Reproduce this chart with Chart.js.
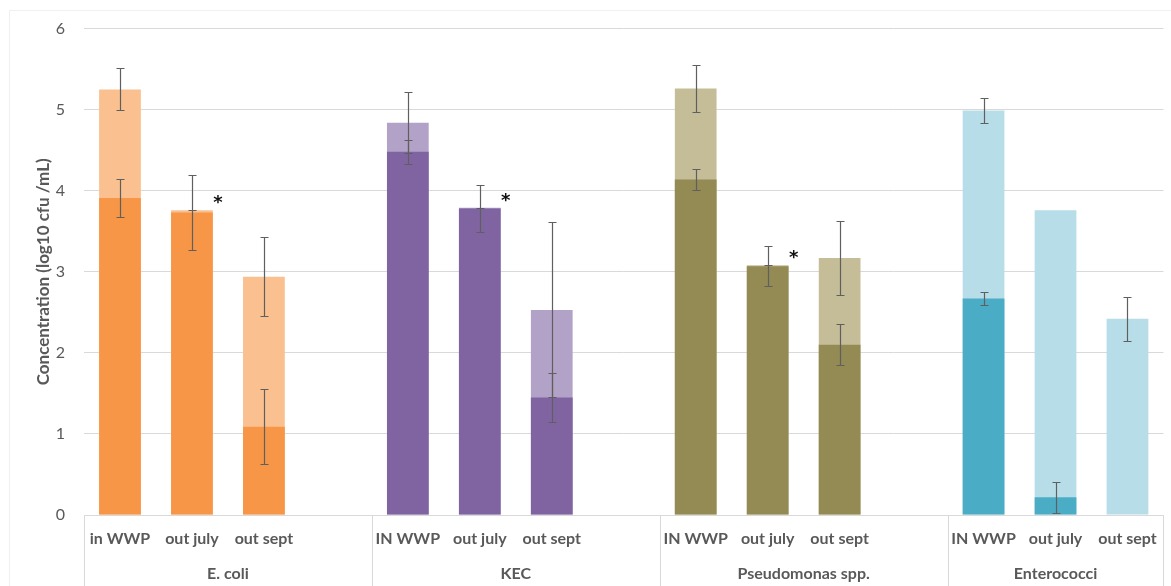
<!DOCTYPE html>
<html>
<head>
<meta charset="utf-8">
<script src="https://cdn.jsdelivr.net/npm/chart.js@4"></script>
<style>
  html, body { margin: 0; padding: 0; background: #ffffff; }
  #wrap { width: 1171px; height: 586px; position: relative; }
</style>
</head>
<body>
<div id="wrap"><canvas id="chart" width="1171" height="586"></canvas></div>
<script>
// Sampling points (empty strings are spacer slots between organism groups)
const categories = ['in WWP', 'out july', 'out sept', '',
                    'IN WWP', 'out july', 'out sept', '',
                    'IN WWP', 'out july', 'out sept', '',
                    'IN WWP', 'out july', 'out sept'];
// Organism groups and the number of slots each one spans
const groups = ['E. coli', 'KEC', 'Pseudomonas spp.', 'Enterococci'];
const groupSpans = [4, 4, 4, 3];

// Total counts (log10 cfu/mL) and their error
const totalValues = [5.25, 3.76, 2.94, null, 4.84, 3.79, 2.53, null, 5.26, 3.08, 3.17, null, 4.99, 3.76, 2.42];
const totalErrors = [0.26, 0, 0.49, null, 0.38, 0, 1.08, null, 0.29, 0, 0.46, null, 0.16, null, 0.27];

// Subset counts (log10 cfu/mL) and their error
const subsetValues = [3.91, 3.73, 1.09, null, 4.48, 3.78, 1.45, null, 4.14, 3.07, 2.10, null, 2.67, 0.22, null];
const subsetErrors = [0.235, 0.46, 0.46, null, 0.15, 0.29, 0.30, null, 0.13, 0.25, 0.255, null, 0.085, 0.19, null];

// Slots flagged with a significance asterisk
const significant = [1, 5, 9];

// Y axis ticks
const yTicks = [0, 1, 2, 3, 4, 5, 6];

const FONT = 'Lato, "DejaVu Sans", sans-serif';
const TEXT = '#595959';
const GRID = '#d9d9d9';

const darkPalette  = ['#F79646', '#8064A2', '#948A54', '#4BACC6'];
const lightPalette = ['#FAC090', '#B3A2C7', '#C4BD97', '#B7DEE8'];

function groupIndexOf(slot) {
  let acc = 0;
  for (let g = 0; g < groupSpans.length; g++) {
    acc += groupSpans[g];
    if (slot < acc) return g;
  }
  return groupSpans.length - 1;
}
const darkColors = categories.map((_, i) => darkPalette[groupIndexOf(i)]);
const lightColors = categories.map((_, i) => lightPalette[groupIndexOf(i)]);

const errorSets = [totalErrors, subsetErrors];

const decorations = {
  id: 'decorations',
  beforeDraw(chart) {
    const ctx = chart.ctx;
    ctx.save();
    ctx.fillStyle = '#ffffff';
    ctx.fillRect(0, 0, chart.width, chart.height);
    // faint outer frame
    ctx.strokeStyle = '#f0f0f0';
    ctx.lineWidth = 1;
    ctx.beginPath();
    ctx.moveTo(9.5, chart.height);
    ctx.lineTo(9.5, 10.5);
    ctx.lineTo(chart.width, 10.5);
    ctx.stroke();
    ctx.restore();
  },
  afterDatasetsDraw(chart) {
    const ctx = chart.ctx;
    const y = chart.scales.y;
    ctx.save();
    ctx.strokeStyle = '#5f5f5f';
    ctx.lineWidth = 1.2;
    errorSets.forEach((errs, di) => {
      const meta = chart.getDatasetMeta(di);
      const vals = chart.data.datasets[di].data;
      meta.data.forEach((el, j) => {
        const v = vals[j], e = errs[j];
        if (v == null || e == null) return;
        const top = Math.round(y.getPixelForValue(v + e)) + 0.5;
        const bot = Math.round(y.getPixelForValue(v - e)) + 0.5;
        const x = Math.round(el.x) + 0.5;
        ctx.beginPath();
        ctx.moveTo(x, top); ctx.lineTo(x, bot);
        ctx.moveTo(x - 4, top); ctx.lineTo(x + 4, top);
        ctx.moveTo(x - 4, bot); ctx.lineTo(x + 4, bot);
        ctx.stroke();
      });
    });
    // significance markers
    ctx.fillStyle = '#111111';
    ctx.font = 'bold 18px "DejaVu Sans", sans-serif';
    ctx.textAlign = 'center';
    ctx.textBaseline = 'alphabetic';
    const meta0 = chart.getDatasetMeta(0);
    significant.forEach(i => {
      const el = meta0.data[i];
      ctx.fillText('*', el.x + 26, y.getPixelForValue(totalValues[i]) - 2);
    });
    ctx.restore();
  },
  afterDraw(chart) {
    const ctx = chart.ctx;
    const x = chart.scales.x;
    const area = chart.chartArea;
    const slot = x.getPixelForValue(1) - x.getPixelForValue(0);
    ctx.save();
    ctx.strokeStyle = GRID;
    ctx.lineWidth = 1;
    ctx.fillStyle = TEXT;
    ctx.font = 'bold 16px ' + FONT;
    ctx.textAlign = 'center';
    ctx.textBaseline = 'middle';
    let start = 0;
    const edges = [];
    groupSpans.forEach((span, g) => {
      const left = x.getPixelForValue(start) - slot / 2;
      const right = x.getPixelForValue(start + span - 1) + slot / 2;
      edges.push(left);
      if (g === groupSpans.length - 1) edges.push(right);
      ctx.fillText(groups[g], (left + right) / 2, 574);
      start += span;
    });
    ctx.beginPath();
    edges.forEach(px => {
      const xx = Math.round(px) + 0.5;
      ctx.moveTo(xx, area.bottom);
      ctx.lineTo(xx, chart.height);
    });
    ctx.stroke();
    ctx.restore();
  }
};

new Chart(document.getElementById('chart'), {
  type: 'bar',
  data: {
    labels: categories,
    datasets: [
      {
        label: 'Total',
        data: totalValues,
        backgroundColor: lightColors,
        borderWidth: 0,
        order: 1
      },
      {
        label: 'Subset',
        data: subsetValues,
        backgroundColor: darkColors,
        borderWidth: 0,
        order: 0
      }
    ]
  },
  options: {
    responsive: false,
    animation: false,
    devicePixelRatio: 1,
    layout: { padding: { left: 0, top: 28, right: 7, bottom: 0 } },
    datasets: {
      bar: { grouped: false, categoryPercentage: 1.0, barPercentage: 0.58 }
    },
    plugins: {
      legend: { display: false },
      tooltip: { enabled: false }
    },
    scales: {
      x: {
        offset: true,
        grid: { display: false, drawTicks: false },
        border: { display: true, color: GRID, width: 1 },
        ticks: {
          autoSkip: false,
          maxRotation: 0,
          minRotation: 0,
          color: TEXT,
          padding: 14,
          font: { family: FONT, size: 16, weight: 'bold' }
        },
        afterFit(scale) { scale.height = 71; }
      },
      y: {
        min: 0,
        max: 6,
        afterBuildTicks(scale) { scale.ticks = yTicks.map(v => ({ value: v })); },
        grid: { color: GRID, lineWidth: 1, drawTicks: false },
        border: { display: false },
        ticks: {
          color: TEXT,
          padding: 19,
          font: { family: FONT, size: 16 }
        },
        title: {
          display: true,
          text: 'Concentration (log10 cfu /mL)',
          color: TEXT,
          padding: { top: 33, bottom: 0 },
          font: { family: FONT, size: 17, weight: 'bold' }
        },
        afterFit(scale) { scale.width = 84; }
      }
    }
  },
  plugins: [decorations]
});
</script>
</body>
</html>
